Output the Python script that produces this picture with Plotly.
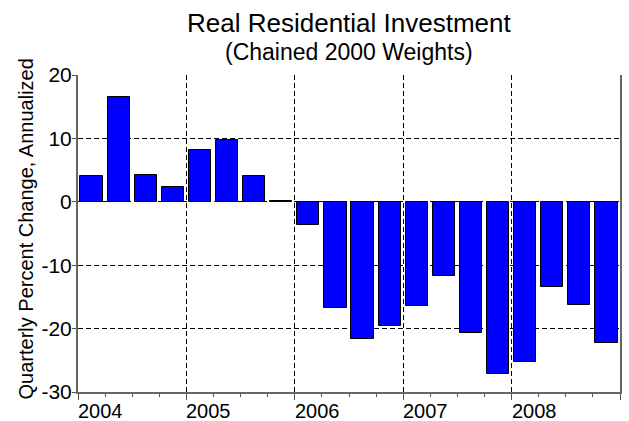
import plotly.graph_objects as go

quarters = ["2004Q1", "2004Q2", "2004Q3", "2004Q4",
            "2005Q1", "2005Q2", "2005Q3", "2005Q4",
            "2006Q1", "2006Q2", "2006Q3", "2006Q4",
            "2007Q1", "2007Q2", "2007Q3", "2007Q4",
            "2008Q1", "2008Q2", "2008Q3", "2008Q4"]
values = [4.0, 16.5, 4.2, 2.4,
          8.1, 9.7, 4.0, 0.2,
          -3.6, -16.7, -21.6, -19.6,
          -16.4, -11.7, -20.7, -27.1,
          -25.2, -13.4, -16.2, -22.3]
years = ["2004", "2005", "2006", "2007", "2008"]
y_ticks = [-30, -20, -10, 0, 10, 20]
y_tick_labels = ["-30", "-20", "-10", "0", "10", "20"]

FONT = "Arial, Liberation Sans, sans-serif"
DASH = "5px,3px"

x_pos = [i + 0.5 for i in range(len(quarters))]
year_pos = [4 * i for i in range(len(years))]

fig = go.Figure()
fig.add_trace(go.Bar(
    x=x_pos, y=values, width=0.82,
    marker=dict(color="#0000FF", line=dict(color="#000000", width=1)),
    customdata=quarters,
    hovertemplate="%{customdata}: %{y}<extra></extra>",
))

annotations = [
    dict(text="Real Residential Investment", xref="paper", yref="paper",
         x=0.5, y=1.0, yshift=35, xanchor="center", yanchor="bottom",
         showarrow=False, font=dict(family=FONT, size=26, color="#000")),
    dict(text="(Chained 2000 Weights)", xref="paper", yref="paper",
         x=0.5, y=1.0, yshift=8, xanchor="center", yanchor="bottom",
         showarrow=False, font=dict(family=FONT, size=23, color="#000")),
    dict(text="Quarterly Percent Change, Annualized", xref="paper", yref="paper",
         x=(25 - 78) / 542, y=0.5, yshift=4, xanchor="center", yanchor="middle",
         textangle=-90, showarrow=False,
         font=dict(family=FONT, size=20, color="#000")),
]
for yr, xp in zip(years, year_pos):
    annotations.append(dict(text=yr, xref="x", yref="paper", x=xp, y=0,
                            yshift=-6, xshift=-2, xanchor="left", yanchor="top",
                            showarrow=False,
                            font=dict(family=FONT, size=20, color="#000")))

fig.update_layout(
    width=629, height=421,
    margin=dict(l=78, r=9, t=75, b=29),
    paper_bgcolor="white", plot_bgcolor="white",
    showlegend=False,
    font=dict(family=FONT, size=20, color="#000"),
    annotations=annotations,
    bargap=0,
    xaxis=dict(
        range=[0, len(quarters)],
        tickvals=year_pos + [len(quarters)],
        showticklabels=False,
        ticks="outside", ticklen=6, tickcolor="#555", tickwidth=1,
        minor=dict(dtick=1, tick0=0, ticks="outside", ticklen=3,
                   tickcolor="#555", showgrid=False),
        showgrid=True, gridcolor="#000", griddash=DASH, gridwidth=1,
        showline=True, linecolor="#666", linewidth=2, mirror=False,
        zeroline=False, fixedrange=True, automargin=False,
    ),
    yaxis=dict(
        range=[-30, 20],
        tickvals=y_ticks,
        ticktext=y_tick_labels,
        ticks="outside", ticklen=4, tickcolor="#555",
        ticklabelstandoff=-4,
        showgrid=True, gridcolor="#000", griddash=DASH, gridwidth=1,
        showline=True, linecolor="#666", linewidth=2, mirror=True,
        zeroline=False,
        tickfont=dict(family=FONT, size=21, color="#000"),
        fixedrange=True, automargin=False,
    ),
)

fig.write_html("out.html",
               config={"displayModeBar": False},
               post_script="document.body.style.margin='0';")
